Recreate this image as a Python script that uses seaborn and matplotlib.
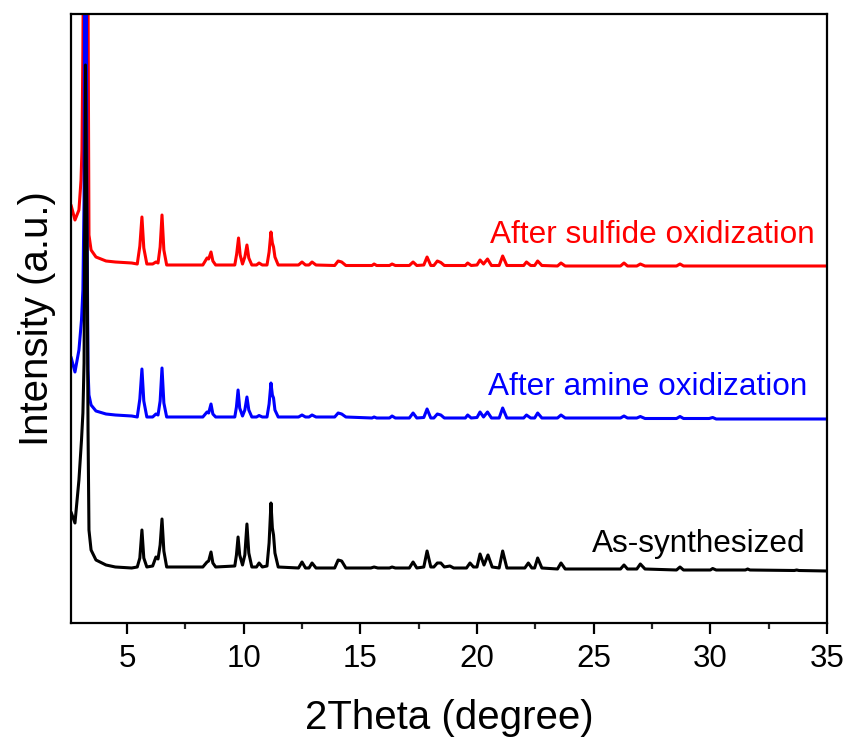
import matplotlib
matplotlib.use("Agg")
import matplotlib.pyplot as plt
import seaborn as sns
import pandas as pd
from matplotlib.ticker import MultipleLocator, NullLocator

# ---- data (2Theta in degree, intensity in arbitrary units) ----
black_x = [2.60, 2.77, 2.94, 3.05, 3.11, 3.16, 3.22, 3.29, 3.33, 3.37, 3.46, 3.67, 4.10, 4.50, 5.20,
           5.44, 5.55, 5.64, 5.72, 5.85, 6.10, 6.24, 6.33, 6.42, 6.50, 6.58, 6.70,
           8.25, 8.43, 8.50, 8.60, 8.68, 8.80,
           9.62, 9.69, 9.76, 9.83, 9.95, 10.05, 10.14, 10.22, 10.35,
           10.55, 10.66, 10.80, 11.00, 11.09, 11.17, 11.23, 11.28, 11.34, 11.48,
           12.35, 12.50, 12.65, 12.80, 12.93, 13.10, 13.90, 14.05, 14.20, 14.38,
           15.45, 15.59, 15.75, 16.25, 16.36, 16.50,
           17.10, 17.26, 17.42, 17.72, 17.86, 18.02, 18.15, 18.30, 18.45, 18.60, 18.84, 19.00,
           19.55, 19.70, 19.85, 20.00, 20.13, 20.30, 20.47, 20.65, 20.95, 21.10, 21.28,
           22.05, 22.20, 22.35, 22.47, 22.60, 22.78, 23.45, 23.60, 23.78,
           26.15, 26.30, 26.45, 26.85, 27.00, 27.20, 28.55, 28.70, 28.85,
           30.00, 30.10, 30.25, 31.50, 31.60, 31.70, 33.60, 33.70, 33.80, 35.00]
black_y = [111, 100, 143, 183, 210, 260, 558, 373, 193, 93, 73, 63, 58, 56, 55,
           56, 65, 93, 65, 56, 57, 66, 64, 78, 104, 72, 56,
           56, 61, 62, 71, 60, 56,
           57, 68, 86, 68, 58, 68, 99, 70, 56,
           56, 60, 56, 57, 80, 120, 95, 88, 70, 56,
           55, 61, 55, 55, 60, 55, 55, 63, 62, 55,
           55, 56, 55, 55, 56, 55,
           55, 61, 55, 56, 72, 56, 56, 60, 60, 56, 57, 55,
           55, 60, 56, 56, 69, 58, 68, 56, 55, 72, 55,
           55, 60, 55, 55, 65, 55, 54, 60, 54,
           54, 58, 54, 54, 59, 54, 53, 56, 53,
           53, 54.5, 53, 53, 54, 53, 52.5, 53, 52.5, 52]

blue_x = [2.60, 2.77, 2.94, 3.05, 3.11, 3.16, 3.22, 3.28, 3.33, 3.37, 3.46, 3.67, 4.10, 4.50, 5.20,
          5.44, 5.55, 5.64, 5.72, 5.85, 6.10, 6.24, 6.33, 6.42, 6.50, 6.58, 6.70,
          8.25, 8.43, 8.50, 8.60, 8.68, 8.80,
          9.62, 9.69, 9.76, 9.83, 9.95, 10.05, 10.14, 10.22, 10.35,
          10.55, 10.66, 10.80, 11.00, 11.09, 11.17, 11.23, 11.28, 11.34, 11.48,
          12.35, 12.50, 12.65, 12.80, 12.93, 13.10, 13.90, 14.05, 14.20, 14.38,
          15.50, 15.59, 15.70, 16.25, 16.36, 16.50,
          17.10, 17.26, 17.42, 17.72, 17.86, 18.02, 18.15, 18.30, 18.45, 18.60, 19.00,
          19.50, 19.60, 19.75, 20.00, 20.13, 20.28, 20.45, 20.62, 20.95, 21.10, 21.28,
          22.00, 22.12, 22.30, 22.47, 22.60, 22.78, 23.45, 23.60, 23.78,
          26.15, 26.30, 26.45, 26.85, 27.00, 27.20, 28.55, 28.70, 28.85,
          29.95, 30.10, 30.25, 35.00]
blue_y = [266, 251, 273, 303, 333, 423, 1023, 423, 253, 228, 218, 212, 209, 208, 207,
          206, 224, 254, 222, 206, 206, 209, 208, 222, 255, 220, 206,
          206, 211, 210, 219, 209, 206,
          206, 216, 233, 215, 207, 213, 226, 213, 206,
          206, 207.5, 206, 206, 219, 240, 228, 225, 213, 206,
          206, 208, 206, 206, 208, 206, 206, 210, 209, 206,
          205, 206, 205, 205, 207, 205,
          205, 210, 205, 205.5, 214, 205, 205, 209, 208, 205, 205,
          205, 208, 205, 205.5, 211, 206, 211, 205, 205, 215, 205,
          205, 208, 205, 205, 210, 205, 205, 208, 205,
          205, 207, 205, 205, 206.5, 204.5, 204.5, 206.5, 204.5,
          204.5, 205.5, 204, 204]

red_x = [2.60, 2.77, 2.94, 3.03, 3.07, 3.11, 3.22, 3.30, 3.37, 3.46, 3.67, 4.10, 4.50, 5.20,
         5.44, 5.55, 5.64, 5.72, 5.85, 6.10, 6.24, 6.33, 6.42, 6.50, 6.58, 6.70,
         8.25, 8.43, 8.50, 8.60, 8.68, 8.80,
         9.62, 9.70, 9.78, 9.85, 9.95, 10.05, 10.14, 10.22, 10.35,
         10.55, 10.66, 10.80, 11.00, 11.09, 11.17, 11.23, 11.28, 11.34, 11.48,
         12.35, 12.50, 12.65, 12.80, 12.93, 13.10, 13.90, 14.05, 14.20, 14.38,
         15.50, 15.59, 15.70, 16.25, 16.36, 16.50,
         17.10, 17.26, 17.42, 17.72, 17.86, 18.02, 18.15, 18.30, 18.45, 18.60, 19.00,
         19.50, 19.60, 19.75, 20.00, 20.13, 20.28, 20.45, 20.62, 20.95, 21.10, 21.28,
         22.00, 22.12, 22.30, 22.47, 22.60, 22.78, 23.45, 23.60, 23.78,
         26.15, 26.30, 26.45, 26.85, 27.00, 27.20, 28.55, 28.70, 28.85, 35.00]
red_y = [418, 403, 413, 443, 473, 573, 1023, 800, 388, 373, 366, 362, 361, 360,
         359, 377, 406, 375, 359, 359, 361, 360, 376, 408, 373, 358,
         358, 365, 364, 371, 362, 358,
         358, 369, 385, 368, 359, 366, 378, 365, 358,
         358, 360, 358, 358, 371, 391, 380, 376, 366, 358,
         358, 361, 358, 358, 361, 358, 357.5, 362, 361, 357.5,
         357.5, 359, 357.5, 357.5, 359, 357.5,
         357.5, 361, 357.5, 358, 366, 357.5, 357.5, 362, 360.5, 357.5, 357.5,
         357.5, 360, 357.5, 358, 363, 359, 364, 357.5, 357.5, 367, 357.5,
         357.5, 361, 357.5, 357.5, 362, 357.5, 357, 360, 357,
         357, 360, 357, 357, 359, 357, 357, 359, 357, 357]

series_names = ["After sulfide oxidization", "After amine oxidization", "As-synthesized"]
series_colors = ["#ff0000", "#0000ff", "#000000"]

df = pd.concat([
    pd.DataFrame({"x": red_x, "y": red_y, "s": series_names[0]}),
    pd.DataFrame({"x": blue_x, "y": blue_y, "s": series_names[1]}),
    pd.DataFrame({"x": black_x, "y": black_y, "s": series_names[2]}),
], ignore_index=True)

sns.set_theme(style="white")
plt.rcParams["font.family"] = ["Liberation Sans", "DejaVu Sans"]

fig = plt.figure(figsize=(8.52, 7.43), dpi=100)
ax = fig.add_axes([71 / 852, 1 - 623 / 743, (827 - 71) / 852, (623 - 14) / 743])

sns.lineplot(data=df, x="x", y="y", hue="s", hue_order=series_names,
             palette=dict(zip(series_names, series_colors)), estimator=None,
             sort=False, linewidth=2.2, legend=False, ax=ax)

ax.set_xlim(2.6, 35)
ax.set_ylim(0, 609)
ax.xaxis.set_major_locator(MultipleLocator(5))
ax.xaxis.set_minor_locator(MultipleLocator(2.5))
ax.yaxis.set_major_locator(NullLocator())
ax.tick_params(axis="x", which="major", direction="out", length=8, width=1.6,
               labelsize=22.5, pad=7, bottom=True, top=False, colors="black")
ax.tick_params(axis="x", which="minor", direction="out", length=4, width=1.6, bottom=True)
ax.tick_params(axis="y", left=False, right=False, labelleft=False)
for sp in ax.spines.values():
    sp.set_visible(True)
    sp.set_color("black")
    sp.set_linewidth(1.6)

ax.set_xlabel("2Theta (degree)", fontsize=29, labelpad=18, color="black")
ax.set_ylabel("Intensity (a.u.)", fontsize=29, labelpad=11, color="black")

label_x = [34.45, 34.15, 34.1]
label_y = [380, 228, 71]
for name, col, lx, ly in zip(series_names, series_colors, label_x, label_y):
    ax.text(lx, ly, name, color=col, fontsize=22.7, ha="right", va="baseline")

fig.savefig("out.png", dpi=100)
